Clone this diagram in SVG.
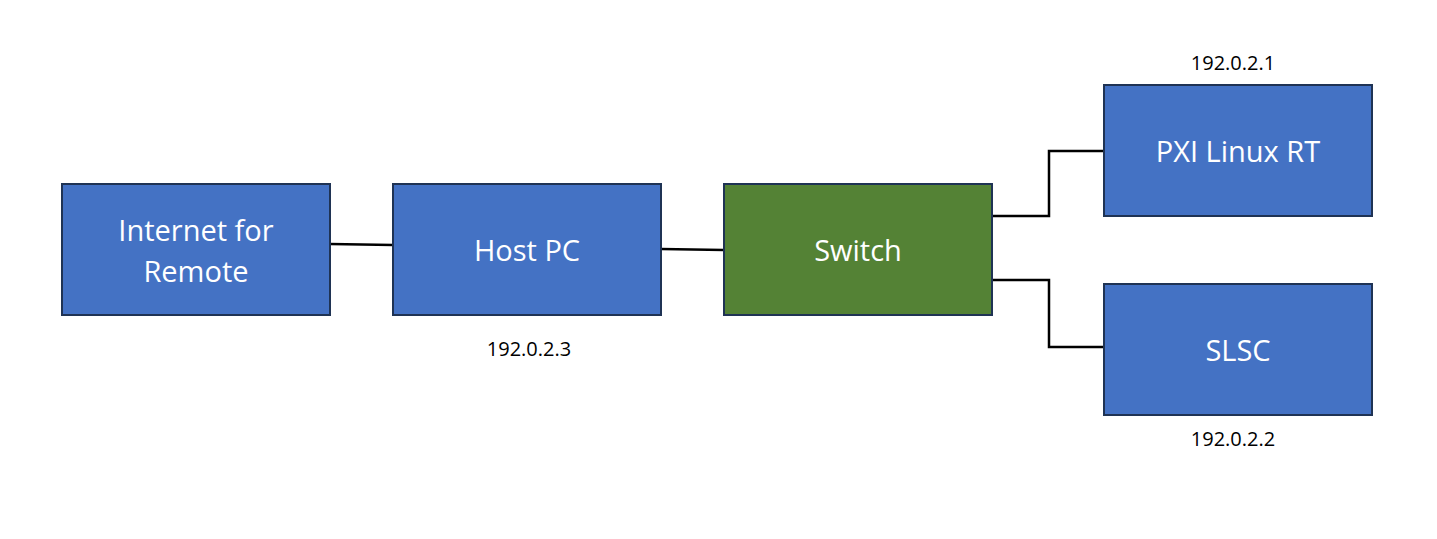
<svg xmlns="http://www.w3.org/2000/svg" width="1437" height="539" viewBox="0 0 1437 539">
<style>
.box{stroke:#1f3354;stroke-width:2}
.blue{fill:#4472c4}
.green{fill:#548235}
.lbl{font-family:"Open Sans","Liberation Sans",sans-serif;font-size:29px;fill:#ffffff;text-anchor:middle}
.ip{font-family:"Open Sans","Liberation Sans",sans-serif;font-size:20px;fill:#000000;text-anchor:middle}
.conn{fill:none;stroke:#000000;stroke-width:2.5}
</style>
<rect width="1437" height="539" fill="#ffffff"/>
<g id="connectors">
<path class="conn" d="M330,244 L393,245"/>
<path class="conn" d="M661,249 L724,250"/>
<path class="conn" d="M992,216 L1049,216 L1049,151 L1104,151"/>
<path class="conn" d="M992,280 L1049,280 L1049,347 L1104,347"/>
</g>
<g id="internet">
<rect class="box blue" x="62" y="184" width="268" height="131"/>
<text class="lbl" x="196" y="241">Internet for</text>
<text class="lbl" x="196" y="282">Remote</text>
</g>
<g id="hostpc">
<rect class="box blue" x="393" y="184" width="268" height="131"/>
<text class="lbl" x="527" y="261">Host PC</text>
</g>
<g id="switch">
<rect class="box green" x="724" y="184" width="268" height="131"/>
<text class="lbl" x="858" y="261">Switch</text>
</g>
<g id="pxi">
<rect class="box blue" x="1104" y="85" width="268" height="131"/>
<text class="lbl" x="1238" y="162">PXI Linux RT</text>
</g>
<g id="slsc">
<rect class="box blue" x="1104" y="284" width="268" height="131"/>
<text class="lbl" x="1238" y="361">SLSC</text>
</g>
<g id="ip-labels">
<text class="ip" x="1233" y="70">192.0.2.1</text>
<text class="ip" x="529" y="356">192.0.2.3</text>
<text class="ip" x="1233" y="446">192.0.2.2</text>
</g>
</svg>
